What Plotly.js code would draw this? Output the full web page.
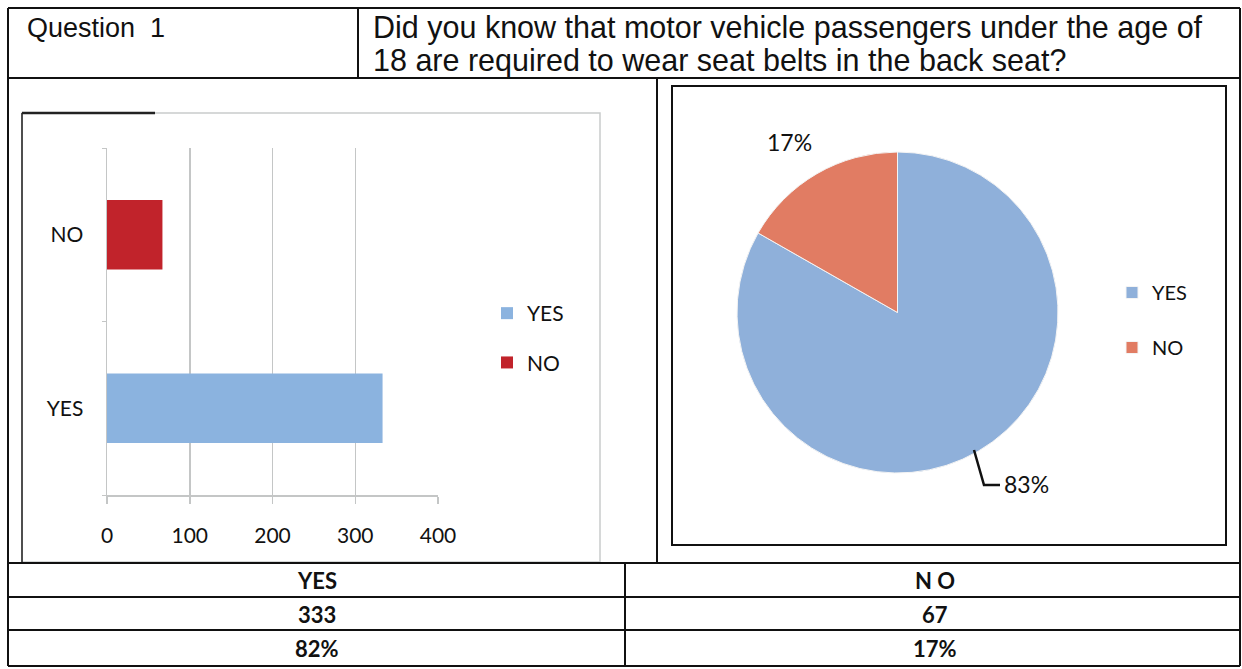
<!DOCTYPE html>
<html>
<head>
<meta charset="utf-8">
<script src="https://cdn.plot.ly/plotly-3.0.1.min.js"></script>
<style>
html,body{margin:0;padding:0;background:#fff;}
#chart{width:1242px;height:669px;}
</style>
</head>
<body>
<div id="chart"></div>
<script>
// ---- data ----
const categories = ['YES', 'NO'];
const counts = [333, 67];
const headerLabels = ['YES', 'N O'];
const tablePercents = ['82%', '17%'];
const xTickValues = [0, 100, 200, 300, 400];
const questionLabel = 'Question  1';
const questionLines = ['Did you know that motor vehicle passengers under the age of',
                       '18 are required to wear seat belts in the back seat?'];

// ---- helpers ----
const W = 1242, H = 669;
const px = x => x / W;
const py = y => 1 - y / H;
const CAL = 'Lato, "Open Sans", sans-serif';
const ARIAL = '"Liberation Sans", Arial, sans-serif';

const barColors = {YES: '#8BB3DF', NO: '#C1232B'};
const pieColors = ['#8FB0DA', '#E17C63'];

const total = counts.reduce((a, b) => a + b, 0);
const piePct = counts.map(v => Math.round(v / total * 100) + '%');

// ---- traces ----
const traces = categories.map((c, i) => ({
  type: 'bar', orientation: 'h',
  y: [c], x: [counts[i]], name: c,
  marker: {color: barColors[c]},
  width: 0.4,
  legend: 'legend', legendgroup: 'g' + i,
  xaxis: 'x', yaxis: 'y', hoverinfo: 'x+y'
}));

traces.push({
  type: 'pie',
  labels: categories.map(c => c + '<br> '),
  values: counts,
  sort: false, direction: 'clockwise', rotation: 0,
  marker: {colors: pieColors, line: {color: '#f4f4f4', width: 1}},
  textinfo: 'none',
  domain: {x: [px(737), px(1058)], y: [py(473), py(152)]},
  legend: 'legend2', hoverinfo: 'label+percent'
});

// ---- shapes (table borders, frames) ----
const shapes = [];
const line = (x0, y0, x1, y1, color, width) => shapes.push({
  type: 'line', xref: 'paper', yref: 'paper',
  x0: px(x0), y0: py(y0), x1: px(x1), y1: py(y1),
  line: {color: color || '#111', width: width || 2}
});
// bar chart frame
shapes.push({type: 'rect', xref: 'paper', yref: 'paper', layer: 'below',
  x0: px(22), y0: py(562), x1: px(600), y1: py(113),
  line: {color: '#C9CCCC', width: 1.5}});
line(22, 113, 155, 113, '#222', 2.5);
line(22, 113, 22, 562, '#222', 1.5);
// pie frame
shapes.push({type: 'rect', xref: 'paper', yref: 'paper', layer: 'below',
  x0: px(672), y0: py(545), x1: px(1226), y1: py(86),
  line: {color: '#111', width: 2}});
// outer table
line(8, 8, 1240, 8);
line(8, 8, 8, 666);
line(1240, 8, 1240, 666);
line(8, 78, 1240, 78);
line(358, 8, 358, 78);
line(657, 78, 657, 562);
line(8, 563, 1240, 563);
line(8, 597, 1240, 597);
line(8, 630, 1240, 630);
line(8, 666, 1240, 666);
line(625, 563, 625, 666);
// leader line for the large pie label
shapes.push({type: 'path', xref: 'paper', yref: 'paper',
  path: `M ${px(974)} ${py(450)} L ${px(984)} ${py(485)} L ${px(1000)} ${py(485)}`,
  line: {color: '#111', width: 2.5}});

// ---- annotations ----
const ann = [];
const text = (t, x, y, opts) => ann.push(Object.assign({
  text: t, xref: 'paper', yref: 'paper', x: px(x), y: py(y),
  showarrow: false, xanchor: 'center', yanchor: 'middle',
  font: {family: CAL, size: 22, color: '#111', weight: 'bold'}
}, opts || {}));

text(questionLabel, 25, 28, {xanchor: 'left', font: {family: ARIAL, size: 27, color: '#111'}});
text(questionLines[0], 371, 27, {xanchor: 'left', font: {family: ARIAL, size: 30.5, color: '#111'}});
text(questionLines[1], 371, 60, {xanchor: 'left', font: {family: ARIAL, size: 30.5, color: '#111'}});

const colCenters = [317, 935];
headerLabels.forEach((h, i) => text(h, colCenters[i], 580));
counts.forEach((v, i) => text(String(v), colCenters[i], 614));
tablePercents.forEach((p, i) => text(p, colCenters[i], 648));

// pie labels
text(piePct[1], 789, 142, {font: {family: CAL, size: 23, color: '#111'}});
text(piePct[0], 1002, 484, {xanchor: 'left', font: {family: CAL, size: 23, color: '#111'}});

// ---- layout ----
const layout = {
  width: W, height: H,
  margin: {l: 0, r: 0, t: 0, b: 0},
  paper_bgcolor: '#fff', plot_bgcolor: 'rgba(0,0,0,0)',
  showlegend: true,
  barmode: 'overlay',
  xaxis: {
    domain: [px(107), px(438)], range: [0, 400],
    tickvals: xTickValues, ticktext: xTickValues.map(String),
    showgrid: true, gridcolor: '#C4C6C6', gridwidth: 1.5,
    zeroline: false, showline: true, linecolor: '#C4C6C6', linewidth: 1.5,
    ticks: 'outside', ticklen: 7, tickcolor: '#C4C6C6', tickwidth: 1.5,
    ticklabelstandoff: 14,
    tickfont: {family: CAL, size: 21, color: '#111'},
    fixedrange: true
  },
  yaxis: {
    domain: [py(495), py(148)],
    type: 'category', categoryorder: 'array', categoryarray: categories,
    range: [-0.5, 1.5],
    showgrid: false, zeroline: false,
    showline: true, linecolor: '#C4C6C6', linewidth: 1.5,
    ticks: 'outside', ticklen: 4, tickcolor: '#C4C6C6', tickson: 'boundaries',
    ticklabelstandoff: 18,
    tickfont: {family: CAL, size: 21, color: '#111'},
    fixedrange: true
  },
  legend: {
    x: px(487), y: py(338), xanchor: 'left', yanchor: 'middle',
    traceorder: 'grouped', tracegroupgap: 19,
    font: {family: CAL, size: 21, color: '#111'},
    bgcolor: 'rgba(0,0,0,0)', borderwidth: 0
  },
  legend2: {
    x: px(1112), y: py(273), xanchor: 'left', yanchor: 'top',
    valign: 'top',
    font: {family: CAL, size: 20, color: '#111'},
    bgcolor: 'rgba(0,0,0,0)', borderwidth: 0
  },
  shapes: shapes,
  annotations: ann
};

Plotly.newPlot('chart', traces, layout, {displayModeBar: false, staticPlot: true});
</script>
</body>
</html>
